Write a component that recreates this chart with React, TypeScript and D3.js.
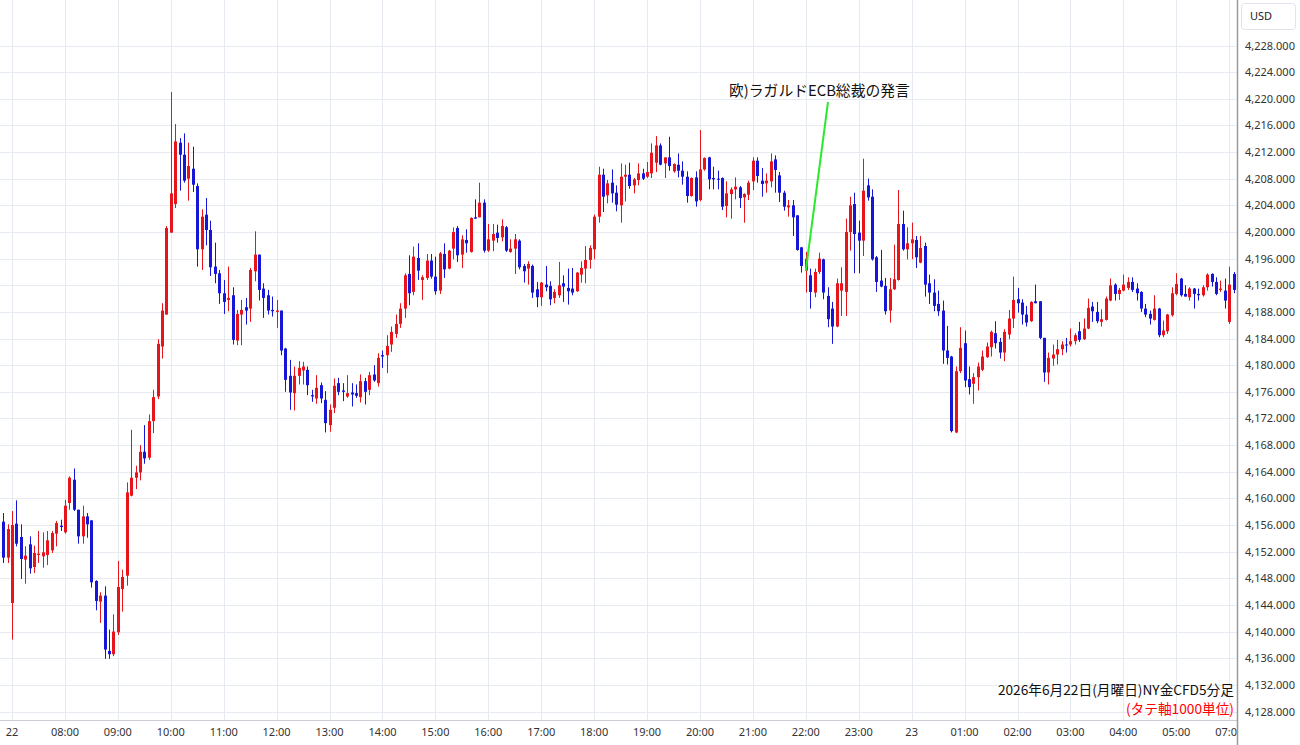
import React, { useEffect, useRef } from "react";
import * as d3 from "d3";

// NY金CFD 5分足  (21日 05:50 から 23日 07:05、1行 = 1時間)
const opens = [
  4156.5, 4151.1,
  4144.3, 4156.2, 4154.2, 4150.8, 4153.1, 4149.7, 4151.5, 4151.3, 4151.5, 4152.2, 4154.7, 4155.9,
  4154.9, 4159.3, 4162.8, 4158.3, 4154.3, 4157.3, 4156.7, 4147.6, 4144.5, 4145.4, 4137.1, 4136.6,
  4139.9, 4146.4, 4148.4, 4160.4, 4163.1, 4163.9, 4167.0, 4166.1, 4171.6, 4175.3, 4182.8, 4187.6,
  4199.9, 4204.2, 4213.4, 4211.6, 4208.0, 4209.5, 4206.9, 4197.4, 4202.6, 4200.3, 4194.8, 4193.8,
  4190.8, 4189.8, 4190.5, 4183.7, 4187.6, 4188.7, 4188.5, 4194.1, 4196.6, 4191.5, 4190.5, 4188.3,
  4188.0, 4188.2, 4182.5, 4178.4, 4175.8, 4178.4, 4179.2, 4179.3, 4175.5, 4175.0, 4177.0, 4174.8,
  4171.0, 4173.6, 4177.3, 4176.2, 4175.3, 4175.9, 4175.8, 4175.2, 4177.6, 4176.3, 4178.6, 4177.3,
  4181.5, 4181.5, 4183.1, 4184.7, 4186.2, 4188.5, 4193.7, 4191.0, 4196.1, 4192.8, 4193.1, 4195.7,
  4193.3, 4191.2, 4196.7, 4194.5, 4197.5, 4200.6, 4196.6, 4198.8, 4197.0, 4202.2, 4202.2, 4204.4,
  4197.2, 4198.7, 4199.9, 4199.2, 4200.7, 4197.0, 4197.5, 4198.7, 4194.9, 4194.5, 4194.9, 4191.4,
  4190.2, 4192.1, 4191.9, 4190.1, 4190.5, 4192.3, 4191.6, 4191.5, 4191.1, 4193.6, 4194.5, 4195.8,
  4197.4, 4202.3, 4208.6, 4205.5, 4207.4, 4205.9, 4204.0, 4208.3, 4208.6, 4207.0, 4207.8, 4208.8,
  4208.3, 4208.8, 4210.4, 4213.0, 4210.3, 4211.2, 4209.1, 4210.1, 4209.2, 4208.3, 4205.4, 4208.2,
  4204.8, 4209.4, 4211.2, 4208.1, 4208.0, 4208.1, 4203.9, 4205.7, 4206.4, 4206.7, 4205.2, 4205.6,
  4207.6, 4210.7, 4207.7, 4207.3, 4207.6, 4210.9, 4208.5, 4205.9, 4203.7, 4204.0, 4202.5, 4197.7,
  4194.2, 4193.5, 4190.9, 4194.0, 4195.9, 4190.4, 4188.5, 4185.8, 4191.2, 4191.0, 4200.0, 4204.2,
  4199.9, 4198.7, 4207.0, 4205.3, 4196.2, 4192.7, 4191.9, 4188.2, 4191.4, 4192.8, 4201.2, 4197.4,
  4198.3, 4198.8, 4195.4, 4197.9, 4192.3, 4190.9, 4189.2, 4188.2, 4182.2, 4181.3, 4169.9, 4179.1,
  4183.3, 4177.9, 4177.2, 4178.2, 4179.3, 4181.2, 4182.7, 4184.8, 4183.5, 4181.9, 4184.6, 4187.0,
  4189.9, 4189.4, 4187.6, 4186.6, 4189.6, 4189.6, 4184.1, 4178.9, 4181.0, 4181.6, 4182.4, 4183.1,
  4183.1, 4183.6, 4185.1, 4183.9, 4185.5, 4188.8, 4188.0, 4186.5, 4186.8, 4189.7, 4192.1, 4190.7,
  4191.2, 4191.6, 4192.5, 4191.5, 4191.0, 4188.5, 4187.7, 4186.8, 4188.5, 4184.5, 4185.1, 4187.5,
  4190.7, 4193.0, 4190.7, 4190.2, 4191.5, 4190.7, 4190.5, 4191.7, 4193.7, 4192.5, 4191.3, 4191.2,
  4186.5, 4193.7,
];

const highs = [
  4157.8, 4156.1,
  4158.1, 4159.7, 4156.1, 4152.8, 4154.3, 4152.9, 4155.1, 4154.9, 4155.1, 4155.1, 4156.6, 4156.8,
  4159.8, 4163.3, 4164.5, 4158.3, 4158.9, 4157.8, 4156.7, 4147.7, 4145.9, 4146.8, 4140.3, 4142.6,
  4150.6, 4149.3, 4162.4, 4170.3, 4164.9, 4168.0, 4171.0, 4172.6, 4176.3, 4183.9, 4189.3, 4200.9,
  4221.0, 4216.2, 4214.1, 4214.8, 4213.4, 4212.8, 4207.3, 4203.4, 4205.1, 4201.7, 4198.4, 4194.3,
  4192.8, 4194.8, 4191.7, 4188.3, 4189.8, 4190.1, 4194.6, 4200.1, 4196.6, 4192.3, 4191.3, 4190.3,
  4189.8, 4188.2, 4182.6, 4180.8, 4179.8, 4180.6, 4180.5, 4179.8, 4176.3, 4178.5, 4177.4, 4176.1,
  4174.1, 4178.0, 4178.1, 4177.3, 4178.5, 4177.3, 4177.1, 4178.6, 4178.1, 4179.0, 4180.0, 4181.8,
  4182.2, 4184.5, 4185.8, 4187.6, 4189.3, 4193.8, 4196.5, 4197.8, 4198.3, 4193.5, 4196.7, 4196.7,
  4196.3, 4197.0, 4198.3, 4197.3, 4200.7, 4200.9, 4199.5, 4200.4, 4202.2, 4204.9, 4207.4, 4204.9,
  4201.2, 4201.2, 4201.1, 4201.9, 4200.9, 4198.9, 4199.7, 4198.9, 4195.2, 4195.6, 4195.1, 4192.5,
  4192.5, 4194.9, 4192.6, 4191.4, 4195.5, 4193.5, 4194.5, 4194.6, 4194.0, 4195.6, 4197.9, 4198.0,
  4202.6, 4209.8, 4209.5, 4207.8, 4209.4, 4207.0, 4210.3, 4210.1, 4210.4, 4208.1, 4210.3, 4209.5,
  4210.5, 4213.3, 4214.4, 4213.3, 4211.2, 4214.3, 4210.3, 4211.8, 4210.6, 4209.1, 4208.2, 4209.1,
  4215.3, 4211.2, 4211.3, 4209.8, 4209.2, 4208.2, 4207.6, 4206.7, 4208.2, 4206.9, 4205.8, 4207.7,
  4211.2, 4211.2, 4209.6, 4208.8, 4211.8, 4211.5, 4209.0, 4206.2, 4204.8, 4204.8, 4202.5, 4197.7,
  4197.0, 4194.5, 4194.5, 4196.9, 4196.0, 4191.7, 4189.5, 4193.0, 4194.7, 4202.0, 4205.3, 4205.9,
  4201.7, 4211.0, 4208.0, 4206.4, 4196.4, 4197.3, 4193.1, 4193.1, 4198.1, 4206.3, 4203.2, 4200.7,
  4201.4, 4199.4, 4199.4, 4198.4, 4193.6, 4192.9, 4191.2, 4189.7, 4185.9, 4181.4, 4179.8, 4185.7,
  4185.2, 4179.8, 4178.8, 4180.4, 4182.2, 4183.4, 4185.2, 4186.6, 4184.1, 4185.4, 4188.3, 4193.3,
  4191.6, 4189.9, 4188.9, 4189.6, 4192.1, 4189.6, 4184.1, 4181.9, 4183.1, 4183.8, 4183.6, 4184.1,
  4185.5, 4184.8, 4186.5, 4187.0, 4190.0, 4189.5, 4189.5, 4188.4, 4190.3, 4193.0, 4192.3, 4191.6,
  4193.6, 4193.2, 4193.2, 4192.3, 4191.1, 4189.2, 4188.2, 4190.5, 4188.6, 4186.7, 4187.7, 4191.7,
  4193.8, 4193.1, 4192.0, 4191.7, 4191.6, 4191.5, 4192.0, 4193.8, 4193.8, 4193.2, 4192.7, 4193.0,
  4194.8, 4194.0,
];

const lows = [
  4150.3, 4150.3,
  4138.8, 4152.8, 4147.9, 4147.2, 4148.7, 4148.8, 4150.3, 4149.6, 4150.0, 4151.8, 4152.8, 4155.1,
  4154.7, 4158.3, 4158.1, 4153.2, 4153.2, 4154.1, 4146.6, 4143.2, 4141.3, 4135.9, 4135.9, 4136.3,
  4139.5, 4143.0, 4146.9, 4160.3, 4161.4, 4162.7, 4165.2, 4165.8, 4169.8, 4174.9, 4181.0, 4187.6,
  4199.9, 4203.6, 4206.2, 4207.4, 4204.7, 4206.0, 4194.8, 4194.3, 4198.0, 4193.4, 4192.3, 4189.2,
  4187.7, 4188.1, 4183.1, 4183.0, 4183.0, 4186.1, 4186.5, 4192.6, 4189.7, 4187.1, 4187.6, 4187.3,
  4185.6, 4181.5, 4176.0, 4173.3, 4173.2, 4177.1, 4177.1, 4175.5, 4174.5, 4174.2, 4174.3, 4169.9,
  4170.0, 4172.8, 4175.5, 4174.6, 4175.1, 4173.8, 4175.1, 4174.4, 4174.1, 4175.5, 4177.5, 4176.8,
  4179.6, 4178.8, 4182.0, 4184.1, 4185.6, 4187.1, 4189.0, 4190.5, 4192.8, 4189.8, 4192.8, 4193.0,
  4190.6, 4190.7, 4193.1, 4194.4, 4195.9, 4195.5, 4194.6, 4196.9, 4196.9, 4202.0, 4202.2, 4196.9,
  4197.0, 4197.1, 4198.4, 4198.6, 4197.0, 4196.9, 4193.7, 4194.4, 4192.4, 4192.1, 4190.1, 4188.7,
  4188.9, 4191.1, 4189.0, 4189.3, 4190.1, 4189.5, 4189.1, 4190.5, 4191.0, 4192.4, 4192.3, 4194.5,
  4195.9, 4201.4, 4203.0, 4204.3, 4204.4, 4203.1, 4201.4, 4204.6, 4206.5, 4205.8, 4207.0, 4207.8,
  4208.1, 4208.1, 4209.0, 4210.0, 4208.1, 4209.2, 4208.9, 4208.2, 4207.1, 4204.4, 4205.3, 4203.8,
  4204.6, 4209.2, 4206.4, 4206.4, 4206.4, 4203.3, 4202.2, 4202.0, 4204.9, 4203.6, 4201.4, 4204.8,
  4206.3, 4207.4, 4205.3, 4205.9, 4206.7, 4205.9, 4204.5, 4203.2, 4202.3, 4199.4, 4197.2, 4193.9,
  4190.9, 4188.5, 4190.2, 4193.7, 4189.9, 4185.7, 4183.2, 4185.7, 4187.4, 4187.4, 4197.2, 4193.8,
  4193.8, 4196.4, 4204.7, 4195.7, 4191.0, 4191.7, 4187.6, 4186.4, 4191.3, 4192.7, 4197.2, 4195.9,
  4195.9, 4194.6, 4195.3, 4190.3, 4189.2, 4188.1, 4187.4, 4180.2, 4180.1, 4169.9, 4169.8, 4178.8,
  4176.7, 4175.6, 4174.2, 4176.2, 4179.1, 4181.1, 4181.3, 4182.5, 4181.0, 4180.6, 4183.9, 4185.6,
  4187.9, 4186.1, 4185.8, 4186.5, 4189.3, 4183.9, 4177.5, 4177.1, 4179.9, 4180.1, 4181.5, 4181.9,
  4182.8, 4183.1, 4183.5, 4183.8, 4185.4, 4186.5, 4186.3, 4185.8, 4186.7, 4189.6, 4189.7, 4189.8,
  4191.1, 4191.3, 4191.0, 4189.7, 4188.0, 4187.2, 4186.1, 4186.7, 4184.2, 4184.2, 4184.7, 4187.3,
  4190.5, 4190.3, 4190.3, 4189.7, 4188.5, 4189.7, 4190.3, 4191.2, 4191.8, 4190.5, 4191.0, 4188.5,
  4186.2, 4190.8,
];

const closes = [
  4151.1, 4155.4,
  4156.0, 4153.2, 4150.9, 4151.4, 4149.5, 4151.8, 4151.7, 4151.9, 4153.7, 4154.8, 4156.3, 4155.7,
  4158.9, 4163.1, 4158.3, 4154.3, 4157.3, 4156.1, 4147.4, 4144.6, 4145.4, 4137.3, 4136.6, 4140.0,
  4146.7, 4148.2, 4160.9, 4163.1, 4163.9, 4167.0, 4166.0, 4171.6, 4175.2, 4183.2, 4188.2, 4200.6,
  4205.8, 4213.6, 4211.6, 4207.7, 4209.9, 4207.1, 4197.4, 4202.3, 4200.3, 4194.7, 4193.7, 4190.8,
  4189.5, 4190.1, 4183.8, 4187.7, 4188.3, 4188.2, 4194.3, 4196.6, 4191.3, 4190.1, 4188.2, 4188.1,
  4188.2, 4182.2, 4177.8, 4175.9, 4178.4, 4179.6, 4179.8, 4177.0, 4175.3, 4176.6, 4175.0, 4171.3,
  4173.3, 4176.9, 4176.0, 4176.0, 4175.8, 4175.6, 4175.4, 4177.6, 4176.0, 4178.5, 4177.7, 4181.1,
  4181.3, 4182.9, 4185.0, 4186.2, 4188.5, 4193.5, 4190.8, 4196.3, 4194.2, 4193.2, 4195.7, 4193.3,
  4191.1, 4196.8, 4194.4, 4197.2, 4200.0, 4196.5, 4198.9, 4198.3, 4202.1, 4202.0, 4204.4, 4197.2,
  4198.9, 4199.7, 4199.1, 4200.9, 4197.2, 4197.5, 4198.9, 4194.7, 4194.1, 4195.2, 4190.9, 4190.2,
  4192.4, 4191.7, 4189.9, 4191.0, 4192.0, 4191.8, 4191.1, 4190.9, 4193.9, 4194.6, 4195.8, 4197.6,
  4202.3, 4208.6, 4205.3, 4207.3, 4205.8, 4204.1, 4208.3, 4208.6, 4206.9, 4207.9, 4208.8, 4208.0,
  4209.0, 4211.9, 4213.0, 4210.1, 4211.2, 4209.9, 4210.2, 4209.2, 4208.3, 4205.4, 4208.1, 4204.6,
  4209.4, 4211.1, 4207.9, 4207.9, 4207.9, 4203.8, 4205.8, 4206.4, 4206.8, 4205.1, 4205.7, 4207.4,
  4210.7, 4208.4, 4207.2, 4207.7, 4210.6, 4209.3, 4205.9, 4203.8, 4204.0, 4202.2, 4197.3, 4194.9,
  4196.0, 4191.0, 4194.0, 4196.0, 4190.9, 4186.9, 4185.8, 4192.3, 4192.3, 4200.0, 4204.0, 4199.7,
  4198.7, 4206.2, 4205.2, 4195.9, 4192.5, 4191.8, 4188.1, 4191.4, 4192.9, 4201.2, 4197.4, 4198.3,
  4198.9, 4196.2, 4197.6, 4192.1, 4190.9, 4188.9, 4188.1, 4182.2, 4181.1, 4170.1, 4179.1, 4182.6,
  4177.7, 4176.7, 4178.2, 4179.8, 4181.3, 4182.8, 4185.0, 4183.3, 4181.9, 4185.0, 4187.0, 4189.8,
  4189.3, 4187.6, 4186.4, 4189.5, 4189.3, 4184.1, 4178.9, 4181.1, 4181.6, 4182.4, 4183.1, 4183.0,
  4183.6, 4184.5, 4183.8, 4185.5, 4188.6, 4188.1, 4186.6, 4186.9, 4190.0, 4192.0, 4190.7, 4191.3,
  4192.1, 4192.5, 4191.3, 4190.8, 4188.5, 4187.6, 4187.0, 4188.5, 4184.5, 4185.2, 4187.6, 4190.8,
  4192.2, 4190.5, 4190.3, 4191.5, 4190.7, 4190.5, 4191.7, 4193.6, 4192.5, 4190.7, 4191.5, 4189.7,
  4192.1, 4191.3,
];

// 時間軸ラベル (07:00 の足から12本ごと、06:00 は休場のため 07:00)
const hourLabels = [
  "22", "08:00", "09:00", "10:00", "11:00", "12:00", "13:00", "14:00", "15:00", "16:00",
  "17:00", "18:00", "19:00", "20:00", "21:00", "22:00", "23:00", "23", "01:00", "02:00",
  "03:00", "04:00", "05:00", "07:00",
];
const firstHourIndex = 2; // 22日 07:00 の足

const priceTicks = [
  4128, 4132, 4136, 4140, 4144, 4148, 4152, 4156, 4160, 4164, 4168, 4172, 4176,
  4180, 4184, 4188, 4192, 4196, 4200, 4204, 4208, 4212, 4216, 4220, 4224, 4228,
];

const note = { text: "欧)ラガルドECB総裁の発言", index: 182, price: 4194.2 };
const title = "2026年6月22日(月曜日)NY金CFD5分足";
const unitNote = "(タテ軸1000単位)";

const App = () => {
  const ref = useRef<SVGSVGElement>(null);

  useEffect(() => {
    if (!ref.current) return;
    const svg = d3.select(ref.current);
    svg.selectAll("*").remove();

    const width = 1300;
    const height = 745;
    const plotRight = 1237;
    const plotBottom = 720;
    const font = '"Noto Sans", "Noto Sans CJK JP", sans-serif';
    const jpFont = '"Noto Sans CJK JP", "Noto Sans", sans-serif';
    const up = "#e8141c";
    const down = "#1616d6";

    const n = Math.min(opens.length, highs.length, lows.length, closes.length);
    const x = d3.scaleLinear().domain([0, n - 1]).range([3.2, 1233.6]);
    const y = d3.scaleLinear().domain([4128, 4228]).range([711.5, 45.5]);

    svg.append("rect").attr("width", width).attr("height", height).attr("fill", "#fff");

    // grid
    svg
      .append("g")
      .selectAll("line")
      .data(priceTicks)
      .join("line")
      .attr("x1", 0)
      .attr("x2", plotRight)
      .attr("y1", (d) => Math.round(y(d)) + 0.5)
      .attr("y2", (d) => Math.round(y(d)) + 0.5)
      .attr("stroke", "#e6ebf2");

    svg
      .append("g")
      .selectAll("line")
      .data(hourLabels)
      .join("line")
      .attr("x1", (d, i) => Math.round(x(firstHourIndex + i * 12)) + 0.5)
      .attr("x2", (d, i) => Math.round(x(firstHourIndex + i * 12)) + 0.5)
      .attr("y1", 0)
      .attr("y2", plotBottom)
      .attr("stroke", "#e6ebf2");

    // candles
    const idx = d3.range(n);
    const candles = svg.append("g");
    candles
      .selectAll("line")
      .data(idx)
      .join("line")
      .attr("x1", (i) => Math.round(x(i)) + 0.5)
      .attr("x2", (i) => Math.round(x(i)) + 0.5)
      .attr("y1", (i) => y(highs[i]))
      .attr("y2", (i) => y(lows[i]))
      .attr("stroke", (i) => (closes[i] >= opens[i] ? up : down))
      .attr("stroke-width", 1);

    candles
      .selectAll("rect")
      .data(idx)
      .join("rect")
      .attr("x", (i) => Math.round(x(i)) - 1)
      .attr("width", 3)
      .attr("y", (i) => y(Math.max(opens[i], closes[i])))
      .attr("height", (i) => Math.max(1, Math.abs(y(opens[i]) - y(closes[i]))))
      .attr("fill", (i) => (closes[i] >= opens[i] ? up : down));

    // annotation
    svg
      .append("line")
      .attr("x1", 828)
      .attr("y1", 102)
      .attr("x2", x(note.index))
      .attr("y2", y(note.price))
      .attr("stroke", "#2ee82e")
      .attr("stroke-width", 2);

    svg
      .append("text")
      .attr("x", 729)
      .attr("y", 96)
      .text(note.text)
      .style("font-size", "14.8px")
      .style("font-family", jpFont)
      .attr("fill", "#111");

    // bottom-right caption
    svg
      .append("text")
      .attr("x", 1234)
      .attr("y", 695)
      .attr("text-anchor", "end")
      .text(title)
      .style("font-size", "13.7px")
      .style("font-family", jpFont)
      .attr("fill", "#111");

    svg
      .append("text")
      .attr("x", 1234)
      .attr("y", 714)
      .attr("text-anchor", "end")
      .text(unitNote)
      .style("font-size", "13.7px")
      .style("font-family", jpFont)
      .attr("fill", "#ff0000");

    // time axis
    svg
      .append("line")
      .attr("x1", 0)
      .attr("x2", plotRight)
      .attr("y1", plotBottom + 0.5)
      .attr("y2", plotBottom + 0.5)
      .attr("stroke", "#c9cdd4");

    svg
      .append("g")
      .selectAll("text")
      .data(hourLabels)
      .join("text")
      .attr("x", (d, i) => x(firstHourIndex + i * 12))
      .attr("y", 736)
      .attr("text-anchor", "middle")
      .text((d) => d)
      .style("font-size", "11px")
      .style("font-family", font)
      .attr("fill", "#333");

    // price axis panel
    svg
      .append("rect")
      .attr("x", plotRight)
      .attr("y", 0)
      .attr("width", width - plotRight)
      .attr("height", height)
      .attr("fill", "#fff");

    svg
      .append("line")
      .attr("x1", plotRight + 0.5)
      .attr("x2", plotRight + 0.5)
      .attr("y1", 0)
      .attr("y2", height)
      .attr("stroke", "#9a9a9a")
      .attr("stroke-width", 1.5);

    svg
      .append("g")
      .selectAll("text")
      .data(priceTicks)
      .join("text")
      .attr("x", 1245)
      .attr("y", (d) => y(d) + 4)
      .text((d) => d3.format(",.3f")(d))
      .style("font-size", "11px")
      .style("font-family", font)
      .attr("fill", "#333");

    svg
      .append("rect")
      .attr("x", 1241.5)
      .attr("y", 3.5)
      .attr("width", 54)
      .attr("height", 26)
      .attr("rx", 3)
      .attr("fill", "#fff")
      .attr("stroke", "#e0e3eb");

    svg
      .append("text")
      .attr("x", 1250)
      .attr("y", 20)
      .text("USD")
      .style("font-size", "11px")
      .style("font-family", font)
      .attr("fill", "#222");
  }, []);

  return (
    <svg
      ref={ref}
      width={1300}
      height={745}
      style={{ position: "absolute", left: 0, top: 0, display: "block" }}
    />
  );
};

export default App;
